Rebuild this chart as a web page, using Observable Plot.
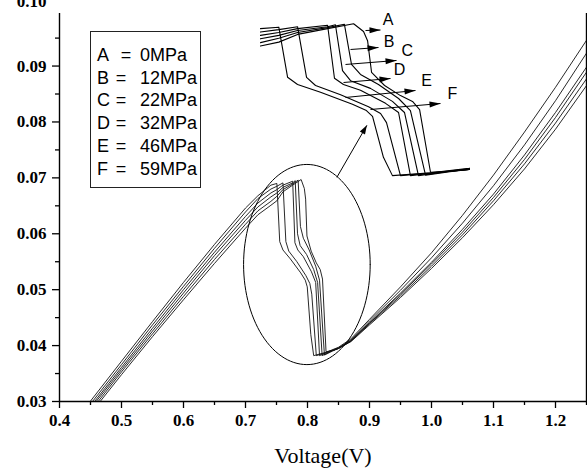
<!DOCTYPE html>
<html>
<head>
<meta charset="utf-8">
<script src="https://cdn.jsdelivr.net/npm/d3@7"></script>
<script src="https://cdn.jsdelivr.net/npm/@observablehq/plot@0.6"></script>
<style>
  html, body { margin: 0; padding: 0; background: #fff; }
  #wrap { position: relative; width: 587px; height: 468px; overflow: hidden; background: #fff; }
  #main { position: absolute; left: 0; top: 0; }
  #inset { position: absolute; left: 260px; top: 10px; }
  #legend { position: absolute; left: 90px; top: 31px; width: 111px; height: 157px;
            border: 1.2px solid #222; box-sizing: border-box;
            font-family: "Liberation Sans", Arial, sans-serif; font-size: 18px; color: #000; }
  #legend .row { position: absolute; left: 0; height: 20px; line-height: 20px; white-space: nowrap; }
  #legend .k { position: absolute; left: 6px; }
  #legend .eq { position: absolute; width: 12px; text-align: center; }
  #legend .v { position: absolute; left: 49px; }
</style>
</head>
<body>
<div id="wrap">
  <div id="main"></div>
  <div id="inset"></div>
  <div id="legend"></div>
</div>
<script>
// ---------- data ----------
// each curve: [voltage, value] pairs
const curveA = [[0.4656,0.03],[0.5,0.0348],[0.55,0.0416],[0.6,0.0482],[0.65,0.0547],[0.7,0.0610],[0.72,0.0634],[0.741,0.0651],[0.7506,0.0659],[0.7604,0.0675],[0.7761,0.0687],[0.7897,0.0697],
  [0.7949,0.0681],[0.7970,0.0662],[0.7991,0.0596],[0.8059,0.0569],[0.8142,0.0548],[0.8205,0.0536],[0.8242,0.0519],[0.8299,0.0389],
  [0.84,0.0391],[0.85,0.0395],[0.87,0.0407],[0.9,0.0437],[0.95,0.0486],[1.0,0.0538],[1.05,0.0593],[1.1,0.0652],[1.15,0.0716],[1.2,0.0787],[1.25,0.0865]];
const curveB = [[0.4624,0.03],[0.5,0.0353],[0.55,0.0421],[0.6,0.0488],[0.65,0.0554],[0.7,0.0617],[0.72,0.0641],[0.741,0.0658],[0.7506,0.0667],[0.7604,0.0679],[0.7761,0.0689],[0.7849,0.0696],
  [0.7886,0.0613],[0.7933,0.0592],[0.8027,0.0571],[0.8132,0.0542],[0.8194,0.0517],[0.8273,0.0383],
  [0.84,0.0390],[0.85,0.0395],[0.87,0.0408],[0.9,0.0439],[0.95,0.0489],[1.0,0.0542],[1.05,0.0598],[1.1,0.0659],[1.15,0.0725],[1.2,0.0798],[1.25,0.0877]];
const curveC = [[0.4592,0.03],[0.5,0.0357],[0.55,0.0426],[0.6,0.0494],[0.65,0.0561],[0.7,0.0624],[0.72,0.0648],[0.741,0.0666],[0.7506,0.0673],[0.7604,0.0683],[0.7761,0.0691],[0.7802,0.0695],
  [0.7839,0.0600],[0.7881,0.0579],[0.7985,0.0563],[0.8100,0.0536],[0.8163,0.0513],[0.8236,0.0382],
  [0.84,0.0391],[0.85,0.0395],[0.87,0.0408],[0.9,0.0440],[0.95,0.0492],[1.0,0.0546],[1.05,0.0603],[1.1,0.0665],[1.15,0.0733],[1.2,0.0808],[1.25,0.0889]];
const curveD = [[0.4565,0.03],[0.5,0.0361],[0.55,0.0431],[0.6,0.0500],[0.65,0.0567],[0.7,0.0631],[0.72,0.0655],[0.741,0.0673],[0.7506,0.0679],[0.7604,0.0687],[0.7761,0.0694],
  [0.7797,0.0584],[0.7844,0.0571],[0.7933,0.0559],[0.8064,0.0532],[0.8132,0.0513],[0.8194,0.0382],
  [0.835,0.0389],[0.85,0.0395],[0.87,0.0409],[0.9,0.0441],[0.95,0.0494],[1.0,0.0549],[1.05,0.0608],[1.1,0.0671],[1.15,0.0741],[1.2,0.0817],[1.25,0.0898]];
const curveE = [[0.4532,0.03],[0.5,0.0366],[0.55,0.0437],[0.6,0.0506],[0.65,0.0574],[0.7,0.0639],[0.72,0.0663],[0.741,0.0680],[0.7506,0.0685],[0.7604,0.0691],
  [0.7651,0.0586],[0.7698,0.0569],[0.7829,0.0550],[0.7975,0.0525],[0.8038,0.0511],[0.8069,0.0492],[0.8142,0.0382],
  [0.83,0.03875],[0.85,0.0396],[0.87,0.0410],[0.9,0.0444],[0.95,0.0499],[1.0,0.0557],[1.05,0.0619],[1.1,0.0686],[1.15,0.0759],[1.2,0.0838],[1.25,0.0923]];
const curveF = [[0.4495,0.03],[0.5,0.0372],[0.55,0.0443],[0.6,0.0513],[0.65,0.0581],[0.7,0.0646],[0.72,0.0668],[0.741,0.0687],[0.7506,0.0690],
  [0.7552,0.0586],[0.7604,0.0571],[0.7724,0.0555],[0.7891,0.0530],[0.7964,0.0517],[0.7996,0.0505],[0.8053,0.0420],[0.8100,0.0382],
  [0.83,0.0388],[0.85,0.0397],[0.87,0.0412],[0.9,0.0447],[0.95,0.0505],[1.0,0.0566],[1.05,0.0633],[1.1,0.0705],[1.15,0.0782],[1.2,0.0862],[1.25,0.0946]];

const curves = [curveA, curveB, curveC, curveD, curveE, curveF];
const curveLetters = ["A", "B", "C", "D", "E", "F"];
const pressures = ["0MPa", "12MPa", "22MPa", "32MPa", "46MPa", "59MPa"];

const xTicks = [0.4, 0.5, 0.6, 0.7, 0.8, 0.9, 1.0, 1.1, 1.2];
const xMinorTicks = [0.45, 0.55, 0.65, 0.75, 0.85, 0.95, 1.05, 1.15, 1.25];
const yTicks = [0.03, 0.04, 0.05, 0.06, 0.07, 0.08, 0.09];
const yMinorTicks = [0.035, 0.045, 0.055, 0.065, 0.075, 0.085, 0.095];
const yTopLabel = ["0.10"];
const xLabel = ["Voltage(V)"];

// highlighted region (ellipse) and the arrow to the magnified view
const zoomEllipse = {cx: 0.799, cy: 0.0545, rx: 0.1021, ry: 0.0179};
const zoomArrow = [{x1: 0.8474, y1: 0.0701, x2: 0.8958, y2: 0.0794}];

// magnified-view window and its annotation arrows (in data units)
const insetX = [0.74103, 0.85081];
const insetY = [0.03615, 0.07246];
const insetArrowTail = [[0.79592,0.06831],[0.78808,0.06437],[0.78547,0.06126],[0.78442,0.05752],[0.78547,0.05441],[0.79853,0.05192]];
const insetArrowHead = [[0.80376,0.06841],[0.80272,0.06478],[0.81213,0.06209],[0.80899,0.05835],[0.82206,0.05586],[0.83513,0.05316]];
const insetLabelPos = [[0.80768,0.07059],[0.8082,0.06603],[0.81772,0.06416],[0.8137,0.06012],[0.82781,0.05794],[0.8414,0.05514]];

const SERIF = "'Liberation Serif', 'Times New Roman', Times, serif";
const SANS = "'Liberation Sans', Arial, Helvetica, sans-serif";

// ---------- helpers ----------
// draws a filled triangular head at the end of every link path (screen geometry of the rendered link)
function addArrowHeads(svg, len, half) {
  const ns = "http://www.w3.org/2000/svg";
  svg.querySelectorAll('g[aria-label="link"] path, g[aria-label="link"] line').forEach(el => {
    let x1, y1, x2, y2;
    if (el.tagName.toLowerCase() === "line") {
      x1 = +el.getAttribute("x1"); y1 = +el.getAttribute("y1");
      x2 = +el.getAttribute("x2"); y2 = +el.getAttribute("y2");
    } else {
      const n = (el.getAttribute("d") || "").match(/-?\d*\.?\d+(?:e[-+]?\d+)?/gi);
      if (!n || n.length < 4) return;
      const v = n.map(Number);
      [x1, y1] = [v[0], v[1]];
      [x2, y2] = [v[v.length - 2], v[v.length - 1]];
    }
    const dx = x2 - x1, dy = y2 - y1, L = Math.hypot(dx, dy) || 1;
    const ux = dx / L, uy = dy / L, nx = -uy, ny = ux;
    const bx = x2 - ux * len, by = y2 - uy * len;
    const tri = document.createElementNS(ns, "path");
    tri.setAttribute("d", `M${x2},${y2}L${bx + nx * half},${by + ny * half}L${bx - nx * half},${by - ny * half}Z`);
    tri.setAttribute("fill", "#000");
    tri.setAttribute("stroke", "none");
    el.parentNode.appendChild(tri);
  });
}

const ellipsePts = d3.range(0, 361, 3).map(a => [
  zoomEllipse.cx + zoomEllipse.rx * Math.cos(a * Math.PI / 180),
  zoomEllipse.cy + zoomEllipse.ry * Math.sin(a * Math.PI / 180)
]);

// ---------- main chart ----------
const yTop = 0.0994;
const main = Plot.plot({
  width: 587, height: 468,
  marginLeft: 59, marginRight: 1, marginTop: 13, marginBottom: 67,
  x: {domain: [0.4, 1.25]},
  y: {domain: [0.03, yTop]},
  style: {background: "transparent", color: "#000", overflow: "visible", fontFamily: SERIF},
  marks: [
    ...curves.map(c => Plot.line(c, {x: d => d[0], y: d => d[1], stroke: "#111", strokeWidth: 0.9})),
    Plot.line(ellipsePts, {x: d => d[0], y: d => d[1], stroke: "#000", strokeWidth: 1}),
    Plot.link(zoomArrow, {x1: "x1", y1: "y1", x2: "x2", y2: "y2", stroke: "#000", strokeWidth: 1}),
    Plot.ruleX([0.4, 1.25], {y1: 0.03, y2: yTop, stroke: "#000", strokeWidth: 1.4}),
    Plot.ruleY([0.03], {x1: 0.4, x2: 1.25, stroke: "#000", strokeWidth: 1.4}),
    Plot.axisX({ticks: xTicks, tickSize: 7, tickPadding: 5, tickFormat: d3.format(".1f"), label: null,
      fontSize: 17, fontWeight: "bold", fontFamily: SERIF, strokeWidth: 1.3}),
    Plot.axisX({ticks: xMinorTicks, tickSize: 4, tickFormat: () => "", label: null, strokeWidth: 1.3}),
    Plot.axisY({ticks: yTicks, tickSize: 7, tickPadding: 6, tickFormat: d3.format(".2f"), label: null,
      fontSize: 17, fontWeight: "bold", fontFamily: SERIF, strokeWidth: 1.3}),
    Plot.axisY({ticks: yMinorTicks, tickSize: 4, tickFormat: () => "", label: null, strokeWidth: 1.3}),
    Plot.text(yTopLabel, {text: d => d, frameAnchor: "top-left", textAnchor: "end", lineAnchor: "middle",
      dx: -13, dy: -12, fontSize: 17, fontWeight: "bold", fontFamily: SERIF}),
    Plot.text(xLabel, {text: d => d, frameAnchor: "bottom", lineAnchor: "middle", dy: 54, fontSize: 22,
      fontFamily: SERIF})
  ]
});
addArrowHeads(main, 9, 3);
// force the fonts of the tick labels (bold serif) and the axis title (regular serif)
main.querySelectorAll("text").forEach(t => {
  t.style.fontFamily = SERIF;
  const isTitle = t.textContent === xLabel[0];
  t.style.fontWeight = isTitle ? "normal" : "bold";
  t.style.fontSize = isTitle ? "22px" : "17px";
});
document.getElementById("main").appendChild(main);

// ---------- magnified view ----------
const inset = Plot.plot({
  width: 210, height: 175, margin: 0,
  x: {domain: insetX, axis: null},
  y: {domain: insetY, axis: null},
  style: {background: "transparent", color: "#000", overflow: "visible", fontFamily: SANS},
  marks: [
    ...curves.map(c => Plot.line(c, {x: d => d[0], y: d => d[1], stroke: "#000", strokeWidth: 1.1, clip: true})),
    Plot.link(d3.range(6), {x1: i => insetArrowTail[i][0], y1: i => insetArrowTail[i][1],
      x2: i => insetArrowHead[i][0], y2: i => insetArrowHead[i][1], stroke: "#000", strokeWidth: 1}),
    Plot.text(d3.range(6), {x: i => insetLabelPos[i][0], y: i => insetLabelPos[i][1], text: i => curveLetters[i],
      fontSize: 16, fontFamily: SANS, textAnchor: "middle", lineAnchor: "middle"})
  ]
});
addArrowHeads(inset, 11, 3);
inset.querySelectorAll("text").forEach(t => { t.style.fontFamily = SANS; t.style.fontSize = "16px"; });
document.getElementById("inset").appendChild(inset);

// ---------- legend ----------
const legend = document.getElementById("legend");
curveLetters.forEach((k, i) => {
  const row = document.createElement("div");
  row.className = "row";
  row.style.top = (13 + i * 22.7) + "px";
  const eqLeft = i === 0 ? 29 : 24;
  row.innerHTML = `<span class="k">${k}</span><span class="eq" style="left:${eqLeft}px">=</span><span class="v">${pressures[i]}</span>`;
  legend.appendChild(row);
});
</script>
</body>
</html>
